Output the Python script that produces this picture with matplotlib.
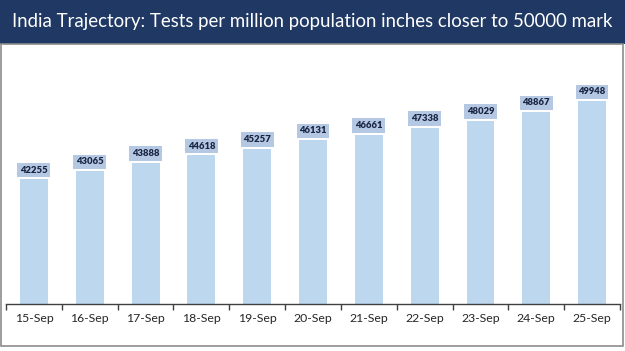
import matplotlib.pyplot as plt
from matplotlib.patches import Rectangle

dates = ['15-Sep', '16-Sep', '17-Sep', '18-Sep', '19-Sep', '20-Sep',
         '21-Sep', '22-Sep', '23-Sep', '24-Sep', '25-Sep']
tests_per_million = [42255, 43065, 43888, 44618, 45257, 46131,
                     46661, 47338, 48029, 48867, 49948]

plt.rcParams['font.family'] = ['Lato', 'DejaVu Sans']

fig = plt.figure(figsize=(6.25, 3.51), dpi=100)
fig.patch.set_facecolor('white')

# title bar + panel frame
fig.patches.append(Rectangle((0, 1 - 44 / 351), 1, 44 / 351, transform=fig.transFigure,
                             facecolor='#203864', edgecolor='none', zorder=0))
fig.patches.append(Rectangle((1.5 / 625, 5 / 351), 621 / 625, (351 - 44 - 5) / 351,
                             transform=fig.transFigure, facecolor='white',
                             edgecolor='#8c8c8c', linewidth=1.2, zorder=0))
fig.text(0.5, 1 - 22 / 351, 'India Trajectory: Tests per million population inches closer to 50000 mark',
         ha='center', va='center', color='white', fontsize=13.4)

ax = fig.add_axes([6 / 625, (351 - 304) / 351, 614 / 625, 254 / 351])
ax.set_zorder(2)
ax.set_facecolor('none')
x = range(len(dates))
bars = ax.bar(x, tests_per_million, width=0.5, color='#bdd7ee', bottom=0)
ax.set_ylim(30000, 55000)
ax.set_xlim(-0.5, len(dates) - 0.5)

# value labels in small boxes above bars
for xi, v in zip(x, tests_per_million):
    ax.annotate(str(v), (xi, v), xytext=(0, 3.5), textcoords='offset points',
                ha='center', va='bottom', fontsize=6.8, fontweight='heavy', color='#1a2540',
                bbox=dict(boxstyle='square,pad=0.28', facecolor='#b4c8e4', edgecolor='none'))

for s in ['top', 'right', 'left']:
    ax.spines[s].set_visible(False)
ax.spines['bottom'].set_color('#404040')
ax.spines['bottom'].set_linewidth(1.0)
ax.set_yticks([])
ax.set_xticks(list(x))
ax.set_xticklabels(dates, fontsize=8.8, color='#262626')
ax.tick_params(axis='x', which='major', length=0, pad=6.5)
ax.set_xticks([i - 0.5 for i in range(len(dates) + 1)], minor=True)
ax.tick_params(axis='x', which='minor', length=4, width=1, color='#404040', direction='out')

fig.savefig('out.png', dpi=100)
